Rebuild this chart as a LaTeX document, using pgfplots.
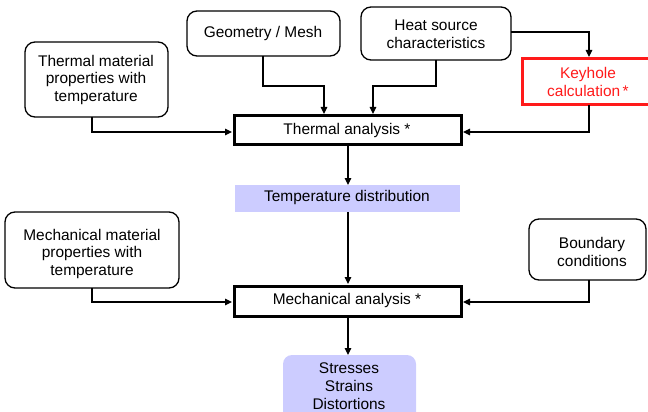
\documentclass[border=0pt]{standalone}
\usepackage{fontspec}
\setmainfont{Liberation Sans}
\usepackage{pgfplots}
\pgfplotsset{compat=1.18}
\usetikzlibrary{arrows.meta}
\definecolor{lav}{HTML}{CCCCFF}
\definecolor{kred}{HTML}{FF1A1A}
\tikzset{
    box/.style={draw=black, line width=1.3bp, rounded corners=10bp, mark=none},
    main/.style={draw=black, line width=3bp, mark=none},
    conn/.style={draw=black, line width=1.2bp, mark=none,
        -{Triangle[length=7bp,width=6.5bp]}},
    txt/.style={font=\fontsize{15.5}{18}\selectfont, align=center, inner sep=0pt},
}

\begin{document}
\begin{tikzpicture}
\useasboundingbox (0,0) rectangle (648bp,412bp);
\begin{axis}[
    at={(0,0)}, anchor=south west,
    width=648bp, height=412bp, scale only axis,
    xmin=0, xmax=648, ymin=0, ymax=412, y dir=reverse,
    hide axis, clip=true,
]
% filled result boxes
\addplot[fill=lav, draw=none, mark=none] coordinates {(235,185) (460,185) (460,212) (235,212)} -- cycle;
\addplot[fill=lav, draw=none, mark=none, rounded corners=9bp] coordinates {(283,355) (416,355) (416,430) (283,430)} -- cycle;

% input boxes (rounded)
\addplot[box] coordinates {(25,42) (168,42) (168,117) (25,117)} -- cycle;
\addplot[box] coordinates {(187,11) (340,11) (340,56) (187,56)} -- cycle;
\addplot[box] coordinates {(361,7) (511,7) (511,60) (361,60)} -- cycle;
\addplot[box] coordinates {(5,212) (179,212) (179,288) (5,288)} -- cycle;
\addplot[box] coordinates {(529,219) (646,219) (646,280) (529,280)} -- cycle;

% analysis boxes
\addplot[main] coordinates {(234,116) (461,116) (461,144) (234,144)} -- cycle;
\addplot[main] coordinates {(234,286) (461,286) (461,316) (234,316)} -- cycle;
\addplot[draw=kred, line width=3bp, mark=none] coordinates {(522,59) (656,59) (656,105) (522,105)} -- cycle;

% connectors
\addplot[conn] coordinates {(92,117) (92,132) (232,132)};
\addplot[conn] coordinates {(263,56) (263,86) (324,86) (324,114)};
\addplot[conn] coordinates {(436,60) (436,86) (373,86) (373,114)};
\addplot[conn] coordinates {(511,32) (589,32) (589,57)};
\addplot[conn] coordinates {(589,105) (589,132) (463,132)};
\addplot[conn] coordinates {(348,146) (348,185)};
\addplot[conn] coordinates {(348,212) (348,284)};
\addplot[conn] coordinates {(92,288) (92,302) (232,302)};
\addplot[conn] coordinates {(589,280) (589,302) (463,302)};
\addplot[conn] coordinates {(348,318) (348,355)};

% labels
\node[txt] at (axis cs:96,80) {Thermal material\\properties with\\temperature};
\node[txt] at (axis cs:263,34) {Geometry / Mesh};
\node[txt] at (axis cs:436,34) {Heat source\\characteristics};
\node[txt, text=kred] at (axis cs:588,82) {Keyhole\\calculation\,*};
\node[txt] at (axis cs:347,131) {Thermal analysis *};
\node[txt] at (axis cs:347,198) {Temperature distribution};
\node[txt] at (axis cs:92,254) {Mechanical material\\properties with\\temperature};
\node[txt] at (axis cs:592,252) {Boundary\\conditions};
\node[txt] at (axis cs:347,301) {Mechanical analysis *};
\node[txt] at (axis cs:349,386) {Stresses\\Strains\\Distortions};
\end{axis}
\end{tikzpicture}
\end{document}
